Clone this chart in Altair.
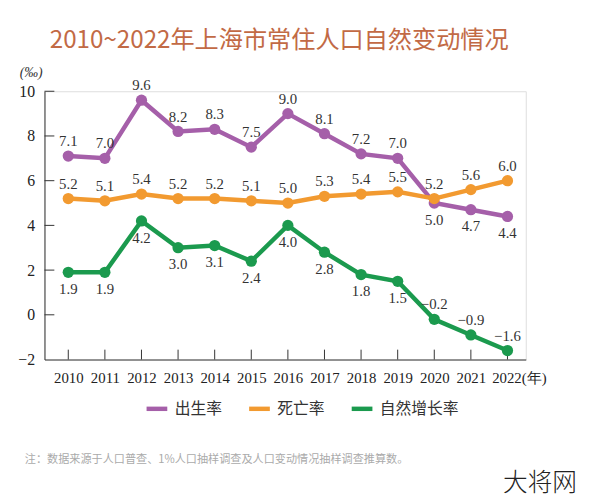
import altair as alt
import pandas as pd

years = list(range(2010, 2023))
birth = [7.1, 7.0, 9.6, 8.2, 8.3, 7.5, 9.0, 8.1, 7.2, 7.0, 5.0, 4.7, 4.4]
death = [5.2, 5.1, 5.4, 5.2, 5.2, 5.1, 5.0, 5.3, 5.4, 5.5, 5.2, 5.6, 6.0]
growth = [1.9, 1.9, 4.2, 3.0, 3.1, 2.4, 4.0, 2.8, 1.8, 1.5, -0.2, -0.9, -1.6]
series_names = ["出生率", "死亡率", "自然增长率"]
series_colors = ["#A55FA9", "#F29A30", "#1B9A4E"]
y_ticks = [-2, 0, 2, 4, 6, 8, 10]

title_text = "2010~2022年上海市常住人口自然变动情况"
note_text = "注：数据来源于人口普查、1%人口抽样调查及人口变动情况抽样调查推算数。"
mark_text = "大将网"

rows = []
for name, vals in zip(series_names, [birth, death, growth]):
    for yr, v in zip(years, vals):
        rows.append({"year": yr, "value": v, "series": name})
df = pd.DataFrame(rows)

W, H = 488, 272
SERIF = "Liberation Serif"
CJK = "Noto Sans CJK SC"

xscale = alt.Scale(domain=[2009.35, 2022.5], nice=False, zero=False)
yscale = alt.Scale(domain=[-2, 10], nice=False, zero=False)
cscale = alt.Scale(domain=series_names, range=series_colors)

xaxis = alt.Axis(
    values=years, format="d", ticks=False, grid=False, title=None,
    labelExpr="datum.value == 2022 ? '2022(年)' : datum.label",
    labelFont=SERIF, labelFontSize=15, labelColor="#222", labelPadding=11,
    labelAlign={"condition": {"test": "datum.value == 2022", "value": "left"}, "value": "center"},
    labelOffset={"condition": {"test": "datum.value == 2022", "value": -16}, "value": 0},
    domainColor="#333", domainWidth=1,
)
yaxis = alt.Axis(
    values=y_ticks, ticks=False, grid=False, title="(‰)",
    titleAngle=0, titleX=-14, titleY=-19, titleAlign="center", titleBaseline="middle",
    titleFont=SERIF, titleFontSize=14, titleFontStyle="italic", titleFontWeight="normal", titleColor="#333",
    labelFont=SERIF, labelFontSize=16, labelColor="#222", labelPadding=10,
    domainColor="#333", domainWidth=1,
)

base = alt.Chart(df)

lines = base.mark_line(strokeWidth=4.5).encode(
    x=alt.X("year:Q", scale=xscale, axis=xaxis),
    y=alt.Y("value:Q", scale=yscale, axis=yaxis),
    color=alt.Color("series:N", scale=cscale, sort=series_names, legend=alt.Legend(
        title=None, orient="none", direction="horizontal", legendX=101, legendY=309,
        symbolType="stroke", symbolSize=441, symbolStrokeWidth=4.5,
        labelFont=CJK, labelFontSize=16, labelColor="#333", labelOffset=5,
        columnPadding=17,
    )),
    order=alt.Order("year:Q"),
)

points = base.mark_circle(size=130, opacity=1).encode(
    x="year:Q", y="value:Q",
    color=alt.Color("series:N", scale=cscale, legend=None),
)

lab = base.transform_calculate(
    below="(datum.series == '出生率' && datum.year >= 2020) || (datum.series == '自然增长率' && datum.year < 2020)"
)
labels_above = lab.transform_filter("!datum.below").mark_text(
    font=SERIF, fontSize=15, color="#333", dy=-15, baseline="middle"
).encode(x="year:Q", y="value:Q", text=alt.Text("value:Q", format=".1f"))
labels_below = lab.transform_filter("datum.below").mark_text(
    font=SERIF, fontSize=15, color="#333", dy=17, baseline="middle"
).encode(x="year:Q", y="value:Q", text=alt.Text("value:Q", format=".1f"))

ytick_df = pd.DataFrame({"v": y_ticks[1:]})
yticks = alt.Chart(ytick_df).mark_rule(color="#333", strokeWidth=1).encode(
    y="v:Q", x=alt.value(0), x2=alt.value(10)
)
xtick_df = pd.DataFrame({"yr": years})
xticks = alt.Chart(xtick_df).mark_rule(color="#333", strokeWidth=1).encode(
    x="yr:Q", y=alt.value(H), y2=alt.value(H - 10)
)

note = alt.Chart(pd.DataFrame({"t": [note_text]})).mark_text(
    font=CJK, fontSize=11.3, color="#aaa", align="left", baseline="middle"
).encode(text="t:N", x=alt.value(-20), y=alt.value(374))

wm = alt.Chart(pd.DataFrame({"t": [mark_text]})).mark_text(
    font=CJK, fontSize=25, color="#222", align="left", baseline="middle", fontWeight=300
).encode(text="t:N", x=alt.value(465), y=alt.value(397))

chart = alt.layer(
    yticks, xticks, lines, points, labels_above, labels_below, note, wm
).properties(
    width=W, height=H,
    title=alt.TitleParams(
        title_text, font=CJK, fontSize=24.5, fontWeight="normal", color="#C26A45",
        anchor="middle", frame="group", offset=0, dy=0, dx=-6, baseline="middle",
    ),
    autosize=alt.AutoSizeParams(type="none"),
    padding={"left": 37, "top": 81, "right": 56, "bottom": 137},
).configure_view(stroke=None).configure(background="white")

chart.save("out.html", embed_options={"renderer": "svg", "actions": False})
